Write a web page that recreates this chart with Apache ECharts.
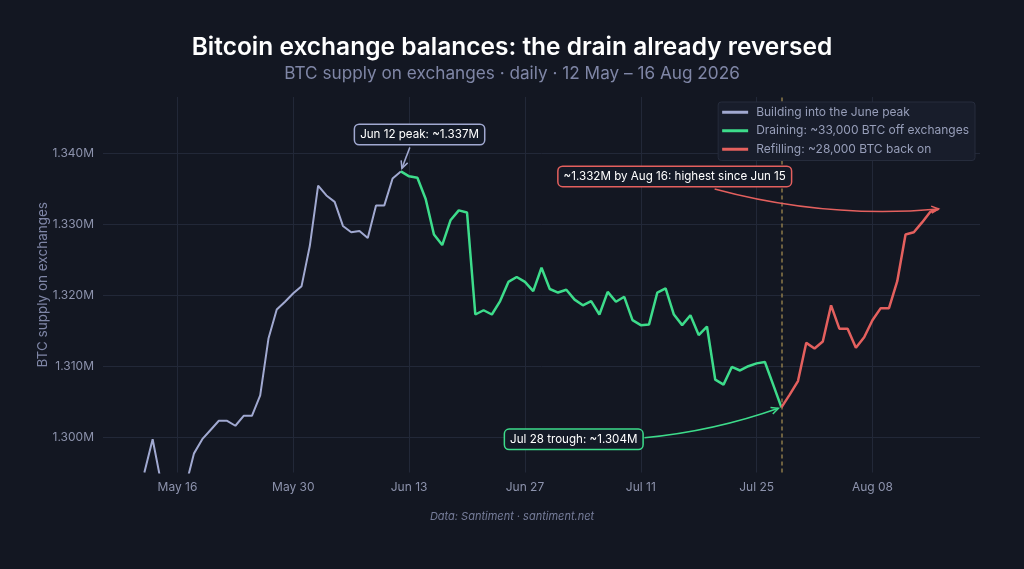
<!DOCTYPE html>
<html><head><meta charset="utf-8">
<script src="https://cdn.jsdelivr.net/npm/echarts@6/dist/echarts.min.js"></script>
<style>html,body{margin:0;padding:0;background:#131722;}#c{width:1024px;height:569px;}</style>
</head><body><div id="c"></div>
<script>
const FONT = 'Inter, "Noto Sans", sans-serif';

// x-axis span (padding days either side of the data)
const axisStart = '2026-05-07';
const axisEnd = '2026-08-21';
const tickLabels = ['May 16', 'May 30', 'Jun 13', 'Jun 27', 'Jul 11', 'Jul 25', 'Aug 08'];

// BTC supply on exchanges (millions of BTC), daily
const buildingStart = '2026-05-12';
const buildingValues = [
  1.2950, 1.2997, 1.2937, 1.2920, 1.2915, 1.2931, 1.2977, 1.2997, 1.3010, 1.3023,
  1.3023, 1.3016, 1.3030, 1.3030, 1.3059, 1.3139, 1.3180, 1.3191, 1.3203, 1.3213,
  1.3270, 1.3355, 1.3341, 1.3332, 1.3298, 1.3289, 1.3291, 1.3281, 1.3327, 1.3327,
  1.3365, 1.3375
];
const drainingStart = '2026-06-12';
const drainingValues = [
  1.3375, 1.3368, 1.3366, 1.3336, 1.3286, 1.3271, 1.3306, 1.3320, 1.3317, 1.3173,
  1.3179, 1.3173, 1.3192, 1.3219, 1.3226, 1.3219, 1.3206, 1.3239, 1.3209, 1.3204,
  1.3208, 1.3194, 1.3186, 1.3192, 1.3173, 1.3205, 1.3191, 1.3198, 1.3165, 1.3158,
  1.3159, 1.3204, 1.3210, 1.3173, 1.3158, 1.3172, 1.3144, 1.3156, 1.3081, 1.3074,
  1.3099, 1.3094, 1.3100, 1.3104, 1.3106, 1.3074, 1.3042
];
const refillingStart = '2026-07-28';
const refillingValues = [
  1.3042, 1.3060, 1.3079, 1.3133, 1.3125, 1.3135, 1.3186, 1.3153, 1.3153, 1.3126,
  1.3141, 1.3165, 1.3182, 1.3182, 1.3220, 1.3286, 1.3289, 1.3303, 1.3318, 1.3322
];

const seriesNames = [
  'Building into the June peak',
  'Draining: ~33,000 BTC off exchanges',
  'Refilling: ~28,000 BTC back on'
];
const colors = ['#a1a9d1', '#3ddc8b', '#e4605e'];
const GRID = '#222838';
const NONE = 'rgba(0,0,0,0)';

const MONTHS = ['Jan','Feb','Mar','Apr','May','Jun','Jul','Aug','Sep','Oct','Nov','Dec'];
function parseDay(s) { const p = s.split('-').map(Number); return Date.UTC(p[0], p[1] - 1, p[2]); }
function isoDay(t) { return new Date(t).toISOString().slice(0, 10); }
function fmtDay(s) { const d = new Date(parseDay(s)); return MONTHS[d.getUTCMonth()] + ' ' + String(d.getUTCDate()).padStart(2, '0'); }

const categories = [];
for (let t = parseDay(axisStart); t <= parseDay(axisEnd); t += 86400000) categories.push(isoDay(t));

function align(start, values) {
  const off = categories.indexOf(start);
  return categories.map((c, i) => (i - off >= 0 && i - off < values.length) ? values[i - off] : null);
}
const showTick = (idx, val) => tickLabels.indexOf(fmtDay(val)) >= 0;

const chart = echarts.init(document.getElementById('c'));
const option = {
  backgroundColor: '#131722',
  animation: false,
  title: [
    { text: 'Bitcoin exchange balances: the drain already reversed', left: 'center', top: 30,
      textStyle: { color: '#ffffff', fontSize: 24.5, fontWeight: 600, fontFamily: FONT } },
    { text: 'BTC supply on exchanges · daily · 12 May – 16 Aug 2026', left: 'center', top: 60,
      textStyle: { color: '#7f86a6', fontSize: 17.2, fontWeight: 400, fontFamily: FONT } },
    { text: 'Data: Santiment · santiment.net', left: 'center', top: 506,
      textStyle: { color: '#767d9a', fontSize: 11, fontStyle: 'italic', fontWeight: 400, fontFamily: FONT } }
  ],
  legend: {
    orient: 'vertical', right: 49, top: 102, z: 20,
    backgroundColor: '#181d2b', borderColor: '#262c3c', borderWidth: 1, borderRadius: 3,
    padding: [3, 6, 4, 4], itemGap: 4, itemWidth: 26, itemHeight: 3, icon: 'rect',
    textStyle: { color: '#979eb9', fontSize: 12, fontFamily: FONT, lineHeight: 14.5, padding: [0, 0, 0, 3] },
    data: seriesNames
  },
  grid: { left: 103, right: 44, top: 97, bottom: 96.5 },
  xAxis: {
    type: 'category', data: categories, boundaryGap: false,
    axisLine: { show: false }, axisTick: { show: false },
    axisLabel: { interval: showTick, formatter: v => fmtDay(v), color: '#8d93ad', fontSize: 12, fontFamily: FONT, margin: 9 },
    splitLine: { show: true, interval: showTick, lineStyle: { color: GRID, width: 1 } }
  },
  yAxis: {
    type: 'value', min: 1.295, max: 1.348,
    name: 'BTC supply on exchanges', nameLocation: 'middle', nameGap: 53, nameMoveOverlap: false,
    nameTextStyle: { color: '#7f86a6', fontSize: 13.5, fontFamily: FONT },
    axisLine: { show: false }, axisTick: { show: false },
    axisLabel: { formatter: v => v.toFixed(3) + 'M', color: '#8d93ad', fontSize: 12, fontFamily: FONT, margin: 9,
      showMinLabel: false, showMaxLabel: false },
    // transparent at the two extent ticks (1.295 / 1.348), grid colour on the round ticks
    splitLine: { lineStyle: { color: [NONE, GRID, GRID, GRID, GRID, GRID, NONE], width: 1 } }
  },
  series: [
    { name: seriesNames[0], type: 'line', data: align(buildingStart, buildingValues), symbol: 'none',
      lineStyle: { color: colors[0], width: 2 }, itemStyle: { color: colors[0] }, z: 3 },
    { name: seriesNames[1], type: 'line', data: align(drainingStart, drainingValues), symbol: 'none',
      lineStyle: { color: colors[1], width: 2.5 }, itemStyle: { color: colors[1] }, z: 3 },
    { name: seriesNames[2], type: 'line', data: align(refillingStart, refillingValues), symbol: 'none',
      lineStyle: { color: colors[2], width: 2.5 }, itemStyle: { color: colors[2] }, z: 3,
      markLine: { silent: true, symbol: ['none', 'none'], label: { show: false }, z: 2,
        lineStyle: { color: '#8c7a4a', type: [4, 3], width: 1.5 },
        data: [{ xAxis: refillingStart }] } }
  ]
};
chart.setOption(option);

// annotations anchored to data points
function px(day, v) { return chart.convertToPixel({ xAxisIndex: 0, yAxisIndex: 0 }, [categories.indexOf(day), v]); }
const peak = px(drainingStart, drainingValues[0]);
const trough = px(refillingStart, refillingValues[0]);
const last = px('2026-08-16', refillingValues[refillingValues.length - 1]);

function box(text, c, anchor, dx, dy) {
  return { type: 'text', x: anchor[0] + dx, y: anchor[1] + dy, z: 100,
    style: { text, fill: '#ffffff', font: '400 11.6px ' + FONT, align: 'center', verticalAlign: 'middle',
      backgroundColor: '#141a27', borderColor: c, borderWidth: 1.5, borderRadius: 4, padding: [4, 5, 3, 5] } };
}
function arrow(c, anchor, s, e, cp) {
  const x1 = anchor[0] + s[0], y1 = anchor[1] + s[1], x2 = anchor[0] + e[0], y2 = anchor[1] + e[1];
  const cx = anchor[0] + cp[0], cy = anchor[1] + cp[1];
  let dx = x2 - cx, dy = y2 - cy; const L = Math.hypot(dx, dy); dx /= L; dy /= L;
  const h = 8, a = 0.45;
  const p1 = [x2 - h * (dx * Math.cos(a) - dy * Math.sin(a)), y2 - h * (dy * Math.cos(a) + dx * Math.sin(a))];
  const p2 = [x2 - h * (dx * Math.cos(a) + dy * Math.sin(a)), y2 - h * (dy * Math.cos(a) - dx * Math.sin(a))];
  return [
    { type: 'bezierCurve', z: 99, shape: { x1, y1, x2, y2, cpx1: cx, cpy1: cy }, style: { stroke: c, lineWidth: 1.5, fill: null } },
    { type: 'polyline', z: 99, shape: { points: [p1, [x2, y2], p2] }, style: { stroke: c, lineWidth: 1.5, fill: null } }
  ];
}
chart.setOption({ graphic: [
  ...arrow(colors[0], peak, [9, -24], [1, -3], [5, -13.5]),
  box('Jun 12 peak: ~1.337M', colors[0], peak, 18.7, -36.9),
  ...arrow(colors[1], trough, [-137, 30.5], [-3, 1], [-68, 24]),
  box('Jul 28 trough: ~1.304M', colors[1], trough, -207.7, 32),
  ...arrow(colors[2], last, [-224, -20], [0, 0], [-113, 10]),
  box('~1.332M by Aug 16: highest since Jun 15', colors[2], last, -263.9, -32.5)
] });
</script>
</body></html>
